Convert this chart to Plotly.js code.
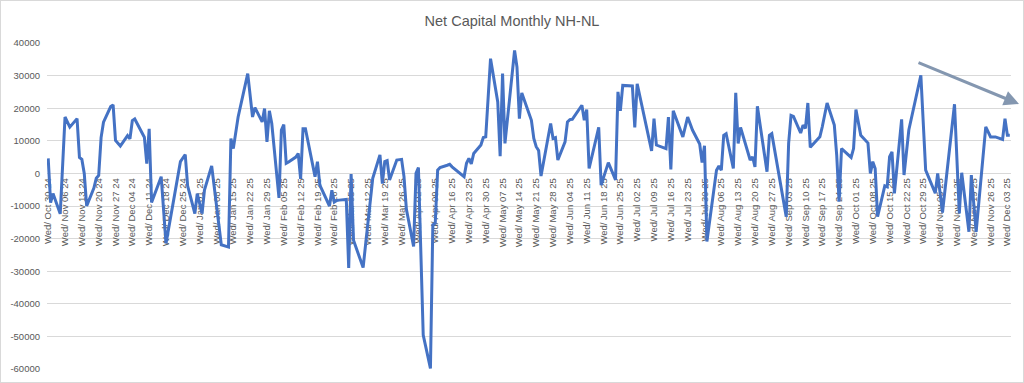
<!DOCTYPE html>
<html>
<head>
<meta charset="utf-8">
<script src="https://cdn.plot.ly/plotly-3.0.1.min.js"></script>
<style>
  html, body { margin: 0; padding: 0; background: #ffffff; }
  #chart { width: 1022px; height: 381px; border: 1px solid #d9d9d9; }
</style>
</head>
<body>
<div id="chart"></div>
<script>
const dates = [
  '2024-10-30','2024-10-31','2024-11-01','2024-11-04','2024-11-06','2024-11-08','2024-11-11','2024-11-12','2024-11-13','2024-11-14',
  '2024-11-15','2024-11-18','2024-11-19','2024-11-20','2024-11-21','2024-11-22','2024-11-25','2024-11-26','2024-11-27','2024-11-29',
  '2024-12-02','2024-12-03','2024-12-04','2024-12-05','2024-12-09','2024-12-10','2024-12-11','2024-12-12','2024-12-16','2024-12-18',
  '2024-12-24','2024-12-26','2024-12-27','2024-12-30','2024-12-31','2025-01-02','2025-01-03','2025-01-06','2025-01-10','2025-01-13',
  '2025-01-14','2025-01-15','2025-01-17','2025-01-21','2025-01-23','2025-01-24','2025-01-27','2025-01-28','2025-01-29','2025-01-30',
  '2025-01-31','2025-02-03','2025-02-04','2025-02-05','2025-02-06','2025-02-07','2025-02-10','2025-02-11','2025-02-12','2025-02-13',
  '2025-02-14','2025-02-18','2025-02-19','2025-02-20','2025-02-24','2025-02-25','2025-02-26','2025-02-27','2025-02-28','2025-03-03',
  '2025-03-04','2025-03-05','2025-03-06','2025-03-10','2025-03-11','2025-03-13','2025-03-14','2025-03-17','2025-03-18','2025-03-19',
  '2025-03-20','2025-03-21','2025-03-24','2025-03-26','2025-03-27','2025-03-28','2025-03-31','2025-04-01','2025-04-02','2025-04-04',
  '2025-04-07','2025-04-08','2025-04-09','2025-04-10','2025-04-11','2025-04-14','2025-04-15','2025-04-16','2025-04-21','2025-04-22',
  '2025-04-23','2025-04-24','2025-04-25','2025-04-28','2025-04-29','2025-04-30','2025-05-02','2025-05-05','2025-05-06','2025-05-07',
  '2025-05-08','2025-05-12','2025-05-13','2025-05-14','2025-05-15','2025-05-19','2025-05-20','2025-05-21','2025-05-22','2025-05-23',
  '2025-05-27','2025-05-28','2025-05-29','2025-05-30','2025-06-02','2025-06-03','2025-06-04','2025-06-05','2025-06-09','2025-06-10',
  '2025-06-11','2025-06-12','2025-06-16','2025-06-17','2025-06-20','2025-06-23','2025-06-24','2025-06-25','2025-06-26','2025-06-30',
  '2025-07-01','2025-07-02','2025-07-08','2025-07-09','2025-07-10','2025-07-14','2025-07-15','2025-07-16','2025-07-17','2025-07-21',
  '2025-07-23','2025-07-25','2025-07-28','2025-07-29','2025-07-30','2025-07-31','2025-08-04','2025-08-05','2025-08-06','2025-08-07',
  '2025-08-08','2025-08-11','2025-08-12','2025-08-13','2025-08-14','2025-08-18','2025-08-19','2025-08-20','2025-08-21','2025-08-25',
  '2025-08-26','2025-08-27','2025-09-02','2025-09-03','2025-09-04','2025-09-05','2025-09-08','2025-09-09','2025-09-10','2025-09-11',
  '2025-09-12','2025-09-16','2025-09-17','2025-09-19','2025-09-22','2025-09-23','2025-09-24','2025-09-25','2025-09-29','2025-09-30',
  '2025-10-01','2025-10-03','2025-10-06','2025-10-07','2025-10-08','2025-10-09','2025-10-10','2025-10-13','2025-10-14','2025-10-15',
  '2025-10-16','2025-10-17','2025-10-20','2025-10-21','2025-10-23','2025-10-28','2025-10-30','2025-11-03','2025-11-04','2025-11-06',
  '2025-11-11','2025-11-13','2025-11-14','2025-11-17','2025-11-18','2025-11-20','2025-11-24','2025-11-26','2025-11-28','2025-12-01',
  '2025-12-02','2025-12-03','2025-12-04'
];
const netCapital = [
  4600,-9000,-6200,-12400,17300,14200,16800,4900,4300,0,
  -10000,-4500,-1500,-600,11000,15700,20500,21000,10100,8400,
  11600,10600,16200,16700,11100,3000,13700,-8900,-1000,-21500,
  3600,5800,-3800,-12300,-6200,-12300,-5100,2300,-21900,-22600,
  10700,7600,17300,30600,17300,20200,15800,19900,9700,19200,
  15300,-7500,13300,15000,3100,3500,5000,6100,-1700,13700,
  13700,-1000,3600,-3600,-10000,-5200,-8800,-8300,-8200,-8000,
  -29000,-200,-20500,-28900,-22000,-7000,-1500,5700,-3100,3600,
  3900,-2000,4100,4300,-1000,-11000,-22400,0,1800,-49600,
  -59800,-15800,-15300,1000,1800,2500,2800,2000,-1000,3100,
  4600,2900,6100,8700,11000,11200,35200,21900,5300,30600,
  9200,37700,32600,16800,24700,16300,10700,8200,7000,-800,
  15300,10700,11000,4100,9700,15800,16500,16600,20900,16300,
  19600,1500,14100,-3600,3300,-2000,25000,19200,27000,26800,
  14100,27500,6900,16800,8700,7600,17300,1200,19200,11200,
  17300,13300,9000,3300,8500,-20900,1000,2300,1000,11700,
  12200,1500,24700,9200,14100,4100,5100,2000,20600,500,
  11700,12200,-13300,9200,17800,17500,12400,14800,13800,21600,
  8000,11200,14300,21600,14800,5600,-8700,7600,4900,7600,
  19600,11700,9300,0,3600,1500,-13300,-3800,-4100,5100,
  6600,-6100,16600,-500,13300,30100,1000,-6100,0,-12000,
  21200,-12300,200,-17900,-500,-17900,14300,11200,11200,10400,
  16800,11700,11700
];
const yTickVals = [-60000,-50000,-40000,-30000,-20000,-10000,0,10000,20000,30000,40000];
const yTickText = ['-60000','-50000','-40000','-30000','-20000','-10000','0','10000','20000','30000','40000'];

const FONT = 'Liberation Sans, Arial, sans-serif';
const GREY = '#595959';

const trace = {
  x: dates,
  y: netCapital,
  type: 'scatter',
  mode: 'lines',
  line: { color: '#4472C4', width: 3 },
  hoverinfo: 'skip'
};

const layout = {
  width: 1022,
  height: 381,
  margin: { l: 46, r: 12, t: 42, b: 13 },
  paper_bgcolor: '#ffffff',
  plot_bgcolor: '#ffffff',
  showlegend: false,
  font: { family: FONT, color: GREY },
  title: {
    text: 'Net Capital Monthly NH-NL',
    font: { family: FONT, size: 14.5, color: GREY },
    xref: 'container', x: 0.5, xanchor: 'center',
    yref: 'container', y: 1 - 20 / 381, yanchor: 'middle'
  },
  xaxis: {
    type: 'date',
    range: ['2024-10-29 12:00', '2025-12-04 12:00'],
    anchor: 'free',
    position: 0.6,
    tick0: '2024-10-30',
    dtick: 7 * 24 * 3600 * 1000,
    tickformat: '%a/ %b %d %y',
    tickangle: -90,
    tickfont: { family: FONT, size: 9.5, color: GREY },
    ticks: '',
    showgrid: false,
    showline: true,
    linecolor: '#d9d9d9',
    linewidth: 1,
    zeroline: false,
    layer: 'below traces'
  },
  yaxis: {
    range: [-60000, 40000],
    tickvals: yTickVals,
    ticktext: yTickText,
    tickfont: { family: FONT, size: 9.5, color: GREY },
    ticks: '',
    ticklabelstandoff: 6,
    showgrid: true,
    gridcolor: '#d9d9d9',
    gridwidth: 1,
    zeroline: false,
    showline: false
  },
  annotations: [{
    xref: 'paper', yref: 'paper',
    x: 1.0083, y: 0.8129,
    ax: -102, ay: -42,
    axref: 'pixel', ayref: 'pixel',
    text: '',
    showarrow: true,
    arrowhead: 2,
    arrowsize: 1,
    arrowwidth: 3,
    arrowcolor: '#8497B0',
    standoff: 0,
    startstandoff: 0
  }]
};

Plotly.newPlot('chart', [trace], layout, { staticPlot: true, displayModeBar: false });
</script>
</body>
</html>
